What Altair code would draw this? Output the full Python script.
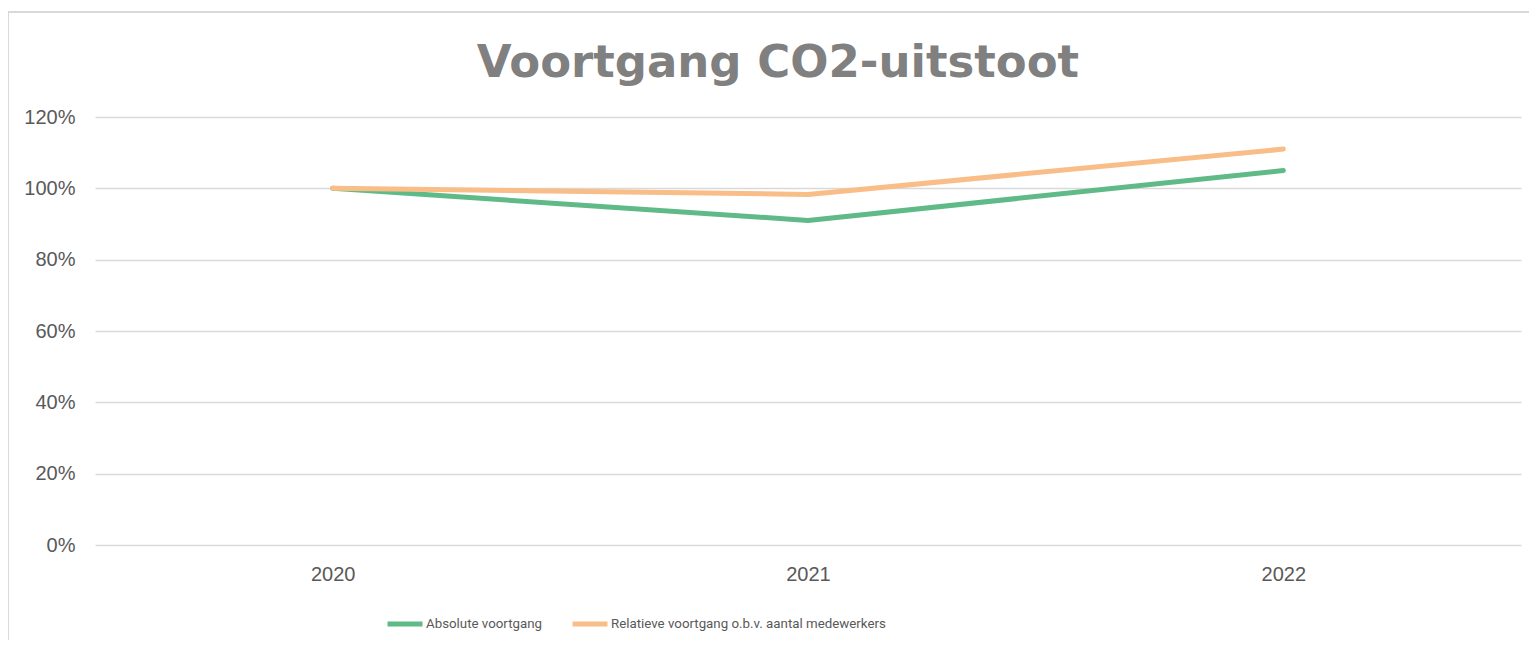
import altair as alt
import pandas as pd

years = ["2020", "2021", "2022"]
absolute = [1.00, 0.91, 1.05]
relative = [1.00, 0.983, 1.11]
series = ["Absolute voortgang", "Relatieve voortgang o.b.v. aantal medewerkers"]
colors = ["#5fba88", "#f9bd87"]
y_ticks = [0, 0.2, 0.4, 0.6, 0.8, 1.0, 1.2]

rows = []
for name, vals in zip(series, [absolute, relative]):
    for yr, v in zip(years, vals):
        rows.append({"Jaar": yr, "Waarde": v, "Reeks": name})
df = pd.DataFrame(rows)

FONT = "Liberation Sans"

lines = alt.Chart(df).mark_line(strokeWidth=5, strokeCap="round", strokeJoin="round").encode(
    x=alt.X("Jaar:N", sort=years,
            scale=alt.Scale(type="point", padding=0.5),
            axis=alt.Axis(title=None, labelAngle=0, ticks=False, domain=False, grid=False,
                          labelPadding=19, labelFontSize=20, labelFont=FONT,
                          labelColor="#595959")),
    y=alt.Y("Waarde:Q", scale=alt.Scale(domain=[0, 1.2], nice=False),
            axis=alt.Axis(title=None, format=".0%", values=y_ticks, ticks=False, domain=False,
                          labelPadding=20, labelFontSize=20, labelFont=FONT,
                          labelColor="#595959", gridColor="#d9d9d9", gridWidth=1.5)),
    color=alt.Color("Reeks:N", sort=series,
                    scale=alt.Scale(domain=series, range=colors),
                    legend=alt.Legend(title=None, orient="none", direction="horizontal",
                                      legendX=290, legendY=487,
                                      symbolType="stroke", symbolSize=1225,
                                      symbolStrokeWidth=5, labelFont="Roboto",
                                      labelFontSize=13.3, labelColor="#595959",
                                      labelOffset=1, columnPadding=19,
                                      labelLimit=600)),
)

border = alt.Chart(pd.DataFrame({"k": [0]})).mark_rule(color="#d9d9d9", strokeWidth=2).encode(
    x=alt.value(-87), x2=alt.value(-87), y=alt.value(-105), y2=alt.value(540)
)
border_top = alt.Chart(pd.DataFrame({"k": [0]})).mark_rule(color="#d9d9d9", strokeWidth=2).encode(
    x=alt.value(-87), x2=alt.value(1440), y=alt.value(-105), y2=alt.value(-105)
)

chart = alt.layer(lines, border, border_top).properties(
    width=1426,
    height=428,
    background="white",
    autosize=alt.AutoSizeParams(type="none"),
    padding={"left": 87, "top": 109, "right": 8, "bottom": 95},
    title=alt.TitleParams("Voortgang CO2-uitstoot", font="DejaVu Sans", fontSize=45,
                          fontWeight="bold", color="#808080", anchor="middle",
                          frame="group", dx=-30, offset=0, dy=75),
).configure_view(strokeWidth=0, stroke="transparent")

chart.save("out.html", embed_options={"renderer": "svg", "actions": False})
